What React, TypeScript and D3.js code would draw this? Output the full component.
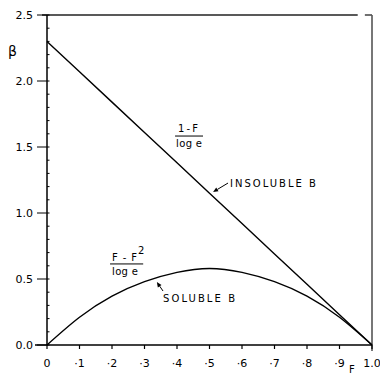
import React from 'react';
import * as d3 from 'd3';

// F fraction and beta
const fValues = [0, 0.1, 0.2, 0.3, 0.4, 0.5, 0.6, 0.7, 0.8, 0.9, 1.0];
const insolubleBeta = [2.30, 2.07, 1.84, 1.61, 1.38, 1.15, 0.92, 0.69, 0.46, 0.23, 0.0];
const solubleBeta = [0.0, 0.21, 0.37, 0.48, 0.55, 0.58, 0.55, 0.48, 0.37, 0.21, 0.0];

const yTicks = [0, 0.5, 1.0, 1.5, 2.0, 2.5];
const yTickLabels = ['0.0', '0.5', '1.0', '1.5', '2.0', '2.5'];
const xTicks = [0, 0.1, 0.2, 0.3, 0.4, 0.5, 0.6, 0.7, 0.8, 0.9, 1.0];
const xTickLabels = ['0', '·1', '·2', '·3', '·4', '·5', '·6', '·7', '·8', '·9', '1.0'];

const W = 380;
const H = 374;
const margin = {top: 15, right: 8, bottom: 29, left: 47};
const font = '"DejaVu Sans", "Liberation Sans", sans-serif';

const App = () => {
    const x = d3.scaleLinear().domain([0, 1]).range([margin.left, W - margin.right]);
    const y = d3.scaleLinear().domain([0, 2.5]).range([H - margin.bottom, margin.top]);

    const line = d3.line<number>()
        .x((d, i) => x(fValues[i]))
        .y(d => y(d));
    const curve = d3.line<number>()
        .x((d, i) => x(fValues[i]))
        .y(d => y(d))
        .curve(d3.curveNatural);

    const minorY = d3.range(0, 26).map(i => i / 10);
    const y0 = y(0);

    // small filled arrow head from tail to tip
    const arrow = (tx, ty, hx, hy) => {
        const x1 = x(tx), y1 = y(ty), x2 = x(hx), y2 = y(hy);
        const a = Math.atan2(y2 - y1, x2 - x1);
        const L = 5, w = 2.2;
        const bx = x2 - L * Math.cos(a), by = y2 - L * Math.sin(a);
        const p = [
            [x2, y2],
            [bx + w * Math.sin(a), by - w * Math.cos(a)],
            [bx - w * Math.sin(a), by + w * Math.cos(a)],
        ];
        return (
            <g>
                <line x1={x1} y1={y1} x2={bx} y2={by} stroke="#000" strokeWidth={1}/>
                <polygon points={p.map(q => q.join(',')).join(' ')} fill="#000"/>
            </g>
        );
    };

    return (
        <svg width={W} height={H} style={{position: 'absolute', left: 0, top: 0, background: '#fff'}}
             fontFamily={font}>
            {/* frame */}
            <line x1={x(0) - 5} x2={x(0.956)} y1={y(2.5)} y2={y(2.5)} stroke="#222" strokeWidth={1.3}/>
            <line x1={x(0.978)} x2={x(1)} y1={y(2.5)} y2={y(2.5)} stroke="#222" strokeWidth={1.3}/>
            <line x1={x(1)} x2={x(1)} y1={y(2.5)} y2={y0 + 6} stroke="#555" strokeWidth={1.6}/>
            <line x1={x(0)} x2={x(0)} y1={y(2.5)} y2={y0} stroke="#000" strokeWidth={1.5}/>
            <line x1={x(0) - 12} x2={x(1)} y1={y0} y2={y0} stroke="#000" strokeWidth={1.5}/>

            {/* y ticks */}
            {minorY.map(v => (
                <line key={'my' + v} x1={x(0)} x2={x(0) + 2.5} y1={y(v)} y2={y(v)} stroke="#000" strokeWidth={1}/>
            ))}
            {yTicks.map((v, i) => (
                <g key={'y' + v}>
                    <line x1={x(0) - 10} x2={x(0)} y1={y(v)} y2={y(v)} stroke="#000" strokeWidth={1}/>
                    <text x={x(0) - 14} y={y(v)} dy="0.36em" textAnchor="end" fontSize={11}>{yTickLabels[i]}</text>
                </g>
            ))}

            {/* x ticks */}
            {xTicks.map((v, i) => (
                <g key={'x' + v}>
                    <line x1={x(v)} x2={x(v)} y1={y0} y2={y0 + 4} stroke="#000" strokeWidth={1.2}/>
                    <text x={x(v)} y={y0 + 22} textAnchor="middle" fontSize={11}>{xTickLabels[i]}</text>
                </g>
            ))}

            {/* axis titles */}
            <text x={8} y={56} fontSize={14}>β</text>
            <text x={349} y={373} fontSize={10}>F</text>

            {/* curves */}
            <path d={line(insolubleBeta)} fill="none" stroke="#000" strokeWidth={1.4}/>
            <path d={curve(solubleBeta)} fill="none" stroke="#000" strokeWidth={1.4}/>

            {/* (1-F)/log e */}
            <g fontSize={10}>
                <text x={x(0.403)} y={y(1.614)} textLength={20} lengthAdjust="spacing">1-F</text>
                <line x1={x(0.394)} x2={x(0.48)} y1={y(1.583)} y2={y(1.583)} stroke="#000" strokeWidth={1}/>
                <text x={x(0.397)} y={y(1.5)} textLength={26} lengthAdjust="spacing">log e</text>
            </g>
            {arrow(0.557, 1.227, 0.511, 1.159)}
            <text x={x(0.563)} y={y(1.197)} fontSize={10} textLength={86} lengthAdjust="spacing">INSOLUBLE B</text>

            {/* (F-F^2)/log e */}
            <g fontSize={10}>
                <text x={x(0.2)} y={y(0.636)} textLength={25} lengthAdjust="spacing">F-F</text>
                <text x={x(0.28)} y={y(0.689)} fontSize={10}>2</text>
                <line x1={x(0.194)} x2={x(0.296)} y1={y(0.614)} y2={y(0.614)} stroke="#000" strokeWidth={1}/>
                <text x={x(0.2)} y={y(0.53)} textLength={26} lengthAdjust="spacing">log e</text>
            </g>
            {arrow(0.357, 0.409, 0.338, 0.477)}
            <text x={x(0.357)} y={y(0.326)} fontSize={10} textLength={72} lengthAdjust="spacing">SOLUBLE B</text>
        </svg>
    );
};

export default App;
